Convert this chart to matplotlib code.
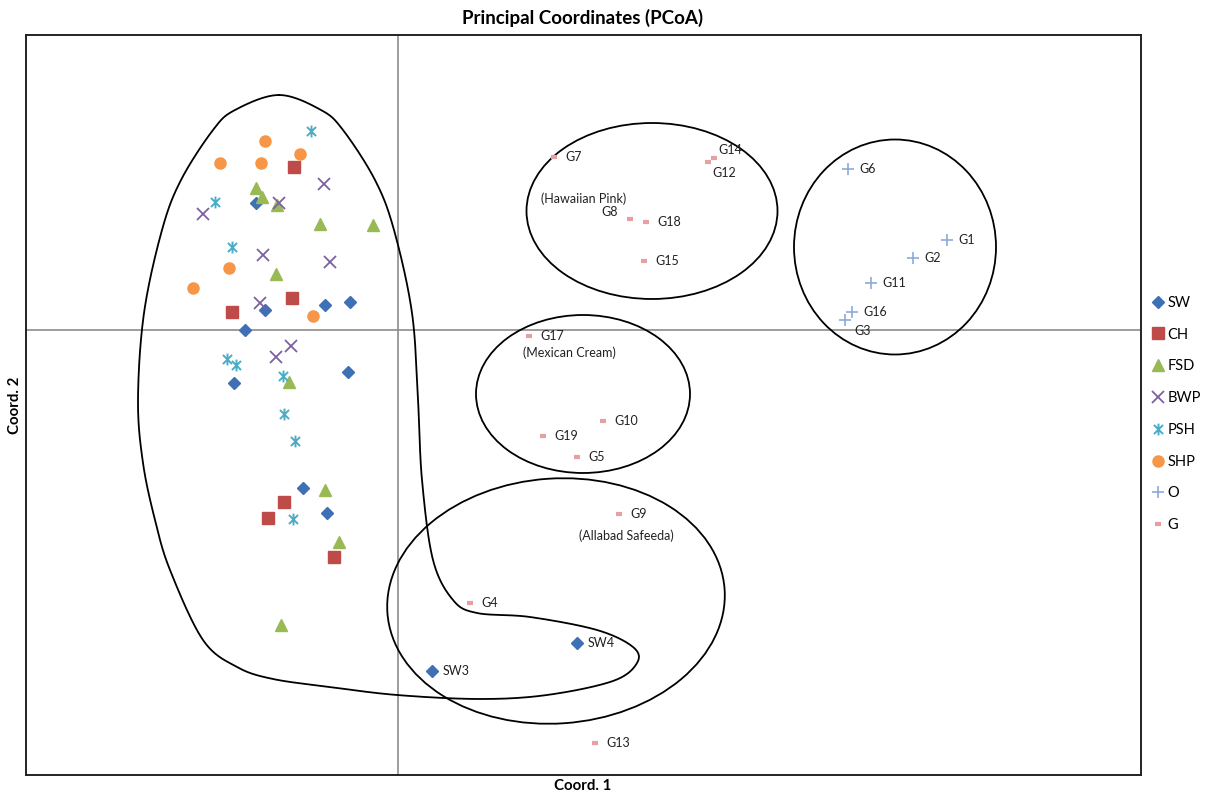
import numpy as np
from matplotlib import pyplot as plt
from matplotlib.lines import Line2D
from matplotlib.patches import Ellipse
from matplotlib.path import Path

plt.rcParams['font.family'] = ['Lato', 'DejaVu Sans']

# --- data (Coord. 1, Coord. 2) ---
sw_x = [-1.42, -1.53, -1.33, -0.73, -0.48, -0.50, -1.64, -0.95, -0.71]
sw_y = [1.27, 0.00, 0.20, 0.25, 0.28, -0.42, -0.53, -1.58, -1.83]
sw_named = ['SW3', 'SW4']
sw_named_x = [0.34, 1.79]
sw_named_y = [-3.41, -3.13]

ch_x = [-1.04, -1.06, -1.66, -1.14, -1.30, -0.64]
ch_y = [1.63, 0.32, 0.18, -1.72, -1.88, -2.27]

fsd_x = [-1.42, -1.36, -1.21, -0.78, -0.25, -1.22, -1.09, -0.73, -0.59, -1.17]
fsd_y = [1.42, 1.33, 1.25, 1.06, 1.05, 0.56, -0.52, -1.60, -2.12, -2.95]

bwp_x = [-0.74, -1.19, -1.95, -1.35, -0.68, -1.38, -1.07, -1.22]
bwp_y = [1.46, 1.27, 1.16, 0.75, 0.68, 0.27, -0.16, -0.27]

psh_x = [-0.87, -1.83, -1.66, -1.71, -1.62, -1.15, -1.14, -1.03, -1.05]
psh_y = [1.99, 1.28, 0.83, -0.29, -0.35, -0.46, -0.84, -1.11, -1.89]

shp_x = [-1.33, -0.98, -1.78, -1.37, -1.69, -2.05, -0.85]
shp_y = [1.89, 1.76, 1.67, 1.67, 0.62, 0.42, 0.14]

o_names = ['G6', 'G1', 'G2', 'G11', 'G16', 'G3']
o_x = [4.50, 5.49, 5.15, 4.73, 4.54, 4.47]
o_y = [1.61, 0.90, 0.72, 0.47, 0.18, 0.10]

g_names = ['G7', 'G14', 'G12', 'G8', 'G18', 'G15', 'G17', 'G10', 'G19', 'G5', 'G9', 'G4', 'G13']
g_x = [1.56, 3.16, 3.10, 2.32, 2.48, 2.46, 1.31, 2.05, 1.45, 1.79, 2.21, 0.72, 1.97]
g_y = [1.73, 1.72, 1.68, 1.11, 1.08, 0.69, -0.06, -0.91, -1.06, -1.27, -1.84, -2.73, -4.13]

# group outlines: centre x, centre y, width, height, angle
group_cx = [2.54, 4.97, 1.85, 1.58]
group_cy = [1.19, 0.83, -0.64, -2.71]
group_w = [2.51, 2.02, 2.14, 3.38]
group_h = [1.76, 2.15, 1.58, 2.45]
group_ang = [0, 0, 0, 4]

group_text = ['(Hawaiian Pink)', '(Mexican Cream)', '(Allabad Safeeda)']
group_text_x = [1.86, 1.71, 2.28]
group_text_y = [1.31, -0.23, -2.06]

# free-hand outline around the main cluster
blob_x = [-1.19, -1.63, -1.85, -2.17, -2.36, -2.54, -2.60, -2.55, -2.43, -2.28, -1.95, -1.61,
          -1.25, -0.68, -0.01, 0.82, 1.49, 2.15, 2.39, 2.35, 1.99, 1.32, 0.79, 0.55,
          0.35, 0.24, 0.20, 0.14, -0.04, -0.23, -0.55, -0.77]
blob_y = [2.35, 2.20, 2.00, 1.50, 1.00, 0.17, -0.70, -1.33, -1.90, -2.40, -3.10, -3.37,
          -3.49, -3.57, -3.65, -3.69, -3.65, -3.51, -3.33, -3.17, -3.00, -2.87, -2.83, -2.70,
          -2.30, -1.50, -0.70, 0.17, 1.00, 1.50, 2.00, 2.20]


def closed_spline(px, py, n=30):
    pts = np.column_stack([px, py])
    m = len(pts)
    out = []
    t = np.linspace(0, 1, n, endpoint=False)[:, None]
    for i in range(m):
        p0, p1, p2, p3 = pts[i - 1], pts[i], pts[(i + 1) % m], pts[(i + 2) % m]
        seg = 0.5 * ((2 * p1) + (-p0 + p2) * t + (2 * p0 - 5 * p1 + 4 * p2 - p3) * t ** 2
                     + (-p0 + 3 * p1 - 3 * p2 + p3) * t ** 3)
        out.append(seg)
    out = np.vstack(out)
    return np.vstack([out, out[:1]])


star = Path([(-1, -1), (1, 1), (-1, 1), (1, -1), (0, -1.3), (0, 1.3)],
            [Path.MOVETO, Path.LINETO, Path.MOVETO, Path.LINETO, Path.MOVETO, Path.LINETO])

c_sw, c_ch, c_fsd, c_bwp = '#3F6FB5', '#BE4B48', '#98B954', '#7D60A0'
c_psh, c_shp, c_o, c_g = '#4AACC5', '#F79646', '#8EA9DB', '#E6A0A0'

styles = {
    'SW': dict(marker='D', ms=6.5, color=c_sw, ls='none'),
    'CH': dict(marker='s', ms=8, color=c_ch, ls='none'),
    'FSD': dict(marker='^', ms=8.5, color=c_fsd, ls='none'),
    'BWP': dict(marker='x', ms=8, mew=1.3, color=c_bwp, ls='none'),
    'PSH': dict(marker=star, ms=8.5, mew=1.4, color=c_psh, ls='none', fillstyle='none'),
    'SHP': dict(marker='o', ms=8, color=c_shp, ls='none'),
    'O': dict(marker='+', ms=9, mew=1.2, color=c_o, ls='none'),
    'G': dict(marker='_', ms=5, mew=3, color=c_g, ls='none'),
}

fig = plt.figure(figsize=(12.13, 7.93), dpi=100)
ax = fig.add_axes([26 / 1213, 18 / 793, 1115 / 1213, 740 / 793])

ax.axvline(0, color='#8C8C8C', lw=1.2, zorder=1)
ax.axhline(0, color='#8C8C8C', lw=1.2, zorder=1)

for cx, cy, w, h, a in zip(group_cx, group_cy, group_w, group_h, group_ang):
    ax.add_patch(Ellipse((cx, cy), w, h, angle=a, fill=False, ec='black', lw=1.3, zorder=2))

bl = closed_spline(blob_x, blob_y)
ax.plot(bl[:, 0], bl[:, 1], color='black', lw=1.3, zorder=2)

ax.plot(sw_x + sw_named_x, sw_y + sw_named_y, zorder=3, **styles['SW'])
ax.plot(ch_x, ch_y, zorder=3, **styles['CH'])
ax.plot(fsd_x, fsd_y, zorder=3, **styles['FSD'])
ax.plot(bwp_x, bwp_y, zorder=3, **styles['BWP'])
ax.plot(psh_x, psh_y, zorder=3, **styles['PSH'])
ax.plot(shp_x, shp_y, zorder=3, **styles['SHP'])
ax.plot(o_x, o_y, zorder=3, **styles['O'])
ax.plot(g_x, g_y, zorder=3, **styles['G'])

# point labels; a few sit off to another side
special = {'G3': (7, -8, 'left'), 'G12': (3, -8, 'left'), 'G14': (3, 6, 'left'),
           'G8': (-9, 5, 'right')}
for names, xs, ys in [(sw_named, sw_named_x, sw_named_y), (o_names, o_x, o_y), (g_names, g_x, g_y)]:
    for nm, x, y in zip(names, xs, ys):
        dx, dy, ha = special.get(nm, (8, 0, 'left'))
        ax.annotate(nm, (x, y), xytext=(dx, dy), textcoords='offset points',
                    ha=ha, va='center', fontsize=9, color='#222222', zorder=4)

for t, x, y in zip(group_text, group_text_x, group_text_y):
    ax.text(x, y, t, ha='center', va='center', fontsize=9, color='#222222', zorder=4)

ax.set_xlim(-3.72, 7.43)
ax.set_ylim(-4.45, 2.95)
ax.set_xticks([])
ax.set_yticks([])
for s in ax.spines.values():
    s.set_linewidth(1.4)
    s.set_color('#222222')

fig.text(583 / 1213, 1 - 18 / 793, 'Principal Coordinates (PCoA)', ha='center', va='center',
         fontsize=13.5, fontweight='bold')
fig.text(583 / 1213, 1 - 786 / 793, 'Coord. 1', ha='center', va='center',
         fontsize=10.8, fontweight='bold')
fig.text(15 / 1213, 1 - 405 / 793, 'Coord. 2', ha='center', va='center', rotation=90,
         fontsize=10.8, fontweight='bold')

handles = [Line2D([], [], **styles[k]) for k in styles]
fig.legend(handles, list(styles.keys()), loc='center left',
           bbox_to_anchor=(1139 / 1213, 1 - 414 / 793), frameon=False, fontsize=10.5,
           handlelength=0.8, handletextpad=0.25, labelspacing=1.22)

fig.savefig('out.png', dpi=100)
